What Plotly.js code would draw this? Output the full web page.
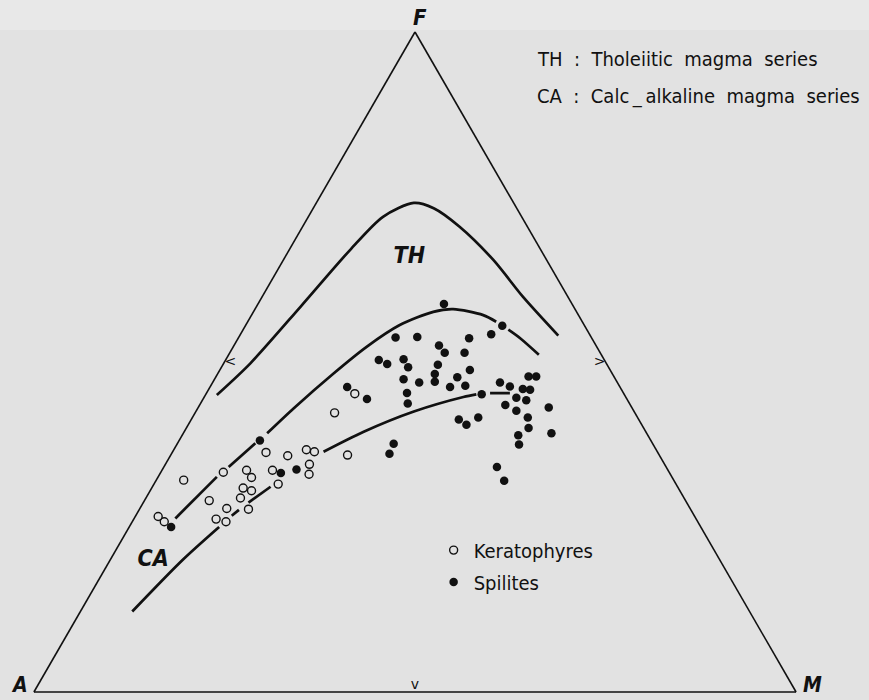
<!DOCTYPE html>
<html>
<head>
<meta charset="utf-8">
<script src="https://cdn.plot.ly/plotly-3.0.1.min.js"></script>
<style>html,body{margin:0;padding:0;background:#e2e2e2;}</style>
</head>
<body>
<div id="chart" style="width:869px;height:700px;"></div>
<script>
// Keratophyres (open circles): F, M, A in percent
const keraF = [26.6,25.8,32.1,29.0,33.3,36.3,33.6,32.5,30.9,30.5,29.4,27.8,27.7,26.2,25.8,33.6,35.8,31.5,36.7,36.4,34.5,33.0,35.9,42.3,45.2];
const keraM = [3.0,4.2,3.6,8.5,8.2,12.3,11.1,12.3,12.0,13.3,12.4,11.4,14.3,10.8,12.3,14.5,15.4,16.3,17.4,18.6,18.9,19.6,23.2,18.3,19.5];
const keraA = [70.4,70.0,64.3,62.5,58.5,51.4,55.3,55.2,57.1,56.2,58.2,60.8,58.0,63.0,61.9,51.9,48.8,52.2,45.9,45.0,46.6,47.4,40.9,39.4,35.3];

// Spilites (filled circles): F, M, A in percent
const spilF = [25.0,38.1,33.2,33.7,46.2,58.8,55.5,54.2,53.7,53.8,53.6,52.5,51.4,51.4,50.3,49.7,50.4,49.2,49.6,48.8,47.4,46.9,48.2,47.0,47.7,46.2,46.4,45.3,43.7,44.4,37.6,36.1,45.1,46.9,46.3,47.8,47.8,45.9,45.8,44.6,44.2,43.5,42.6,43.1,41.6,40.0,41.3,40.5,41.6,39.2,38.9,37.5,34.1,32.0];
const spilM = [5.5,10.6,15.8,17.6,18.0,24.4,33.7,32.9,20.6,23.4,30.3,26.9,28.2,30.8,20.1,21.5,23.3,24.5,28.2,32.8,24.8,27.1,28.5,29.1,31.7,31.5,33.4,26.3,27.2,21.5,28.4,28.6,36.2,37.7,39.3,41.0,42.0,41.2,42.2,41.0,42.5,40.1,42.0,46.0,44.0,44.9,35.1,36.5,37.5,48.3,44.1,44.9,43.7,45.7];
const spilA = [69.5,51.3,51.0,48.7,35.8,16.8,10.8,12.9,25.7,22.8,16.1,20.6,20.4,17.8,29.6,28.8,26.3,26.3,22.2,18.4,27.8,26.0,23.3,23.9,20.6,22.3,20.2,28.4,29.1,34.1,34.0,35.3,18.7,15.4,14.4,11.2,10.2,12.9,12.0,14.4,13.3,16.4,15.4,10.9,14.4,15.1,23.6,23.0,20.9,12.5,17.0,17.6,22.2,22.3];

// Tholeiitic (TH) boundary curve
const thF = [45.0,49.8,58.4,67.0,72.0,74.1,73.3,70.5,65.5,59.9,54.0];
const thM = [1.5,3.5,5.8,8.0,9.8,12.8,15.8,20.6,27.5,34.2,41.8];
const thA = [53.5,46.7,35.8,25.0,18.2,13.1,10.9,8.9,7.0,5.9,4.2];

// Upper calc-alkaline boundary curve (null = break in the line)
const caUpF = [26.3,32.6,null,34.1,37.7,null,39.2,43.0,48.3,52.3,55.6,57.6,58.0,57.1,56.1,null,54.9,53.6,51.1];
const caUpM = [5.4,7.7,null,8.5,10.2,null,11.0,12.6,15.2,17.5,20.2,23.6,26.0,30.4,32.6,null,34.8,37.0,40.7];
const caUpA = [68.3,59.7,null,57.4,52.1,null,49.8,44.4,36.5,30.2,24.2,18.8,16.0,12.5,11.3,null,10.3,9.4,8.2];

// Lower calc-alkaline curve
const caLoF = [12.2,20.0,25.0,null,26.7,27.6,null,28.7,31.1,null,36.4,39.4,42.5,44.7,45.1,null,45.3,45.3];
const caLoM = [6.8,9.5,11.8,null,12.6,13.1,null,13.8,15.5,null,19.8,23.5,28.6,34.0,35.5,null,37.2,39.8];
const caLoA = [81.0,70.5,63.2,null,60.7,59.3,null,57.5,53.4,null,43.8,37.1,28.9,21.3,19.4,null,17.5,14.9];

const vertexLabels = ['F','A','M'];
const regionLabels = ['TH','CA'];
const seriesNames = ['Keratophyres','Spilites'];
const noteLines = ['TH\u00a0\u00a0:\u00a0\u00a0Tholeiitic\u00a0\u00a0magma\u00a0\u00a0series',
                   'CA\u00a0\u00a0:\u00a0\u00a0Calc\u2009_\u2009alkaline\u00a0\u00a0magma\u00a0\u00a0series'];

const BG = '#e2e2e2';
const condensed = 'DejaVu Sans Condensed, Liberation Sans Narrow, Roboto Condensed, Liberation Sans, sans-serif';
const labelFont = {family:condensed, size:23, color:'#111'};
const noteFont = {family:condensed, size:20, color:'#111'};

const curveLine = {color:'#111', width:2.7, shape:'spline', smoothing:0.8};
const base = {type:'scatterternary', hoverinfo:'skip', showlegend:false, cliponaxis:false};

const traces = [
  Object.assign({}, base, {mode:'lines', a:thF, b:thA, c:thM, line:curveLine}),
  Object.assign({}, base, {mode:'lines', a:caUpF, b:caUpA, c:caUpM, line:curveLine, connectgaps:false}),
  Object.assign({}, base, {mode:'lines', a:caLoF, b:caLoA, c:caLoM, line:curveLine, connectgaps:false}),
  {type:'scatterternary', mode:'markers', name:seriesNames[0], a:keraF, b:keraA, c:keraM,
   legendgroup:'k', cliponaxis:false,
   marker:{symbol:'circle-open', size:8, color:'#111', line:{width:1.4, color:'#111'}}},
  {type:'scatterternary', mode:'markers', name:seriesNames[1], a:spilF, b:spilA, c:spilM,
   legendgroup:'s', cliponaxis:false,
   marker:{symbol:'circle', size:8.5, color:'#111', line:{width:0}}},
  Object.assign({}, base, {mode:'text', a:[65.9,19.9], b:[17.8,74.4], c:[16.3,5.7],
   text:regionLabels.map(t=>'<i><b>'+t+'</b></i>'),
   textposition:'middle center', textfont:labelFont}),
  Object.assign({}, base, {mode:'text', a:[50,50,0], b:[50,0,50], c:[0,50,50],
   text:['<','>','v'], textposition:['middle right','middle left','top center'],
   textfont:{family:'DejaVu Sans, sans-serif', size:14, color:'#111'}})
];

const axisCommon = {showgrid:false, showticklabels:false, ticks:'', linecolor:'#111', linewidth:1.6, title:{text:''}, min:0};

function vLabel(t, x, y, xa, sz) {
  return {xref:'paper', yref:'paper', x:x/869, y:1-y/700, xanchor:xa, yanchor:'middle',
          text:'<i><b>'+t+'</b></i>', showarrow:false,
          font:{family:condensed, size:sz, color:'#111'}};
}

const layout = {
  width:869, height:700,
  margin:{l:0, r:0, t:0, b:0},
  paper_bgcolor:BG, plot_bgcolor:BG,
  showlegend:true,
  ternary:{
    sum:100,
    bgcolor:BG,
    domain:{x:[33/869, 797/869], y:[0.0114, 0.9543]},
    aaxis:Object.assign({}, axisCommon),
    baxis:Object.assign({}, axisCommon),
    caxis:Object.assign({}, axisCommon)
  },
  legend:{x:0.499, y:0.242, xanchor:'left', yanchor:'top', bgcolor:'rgba(0,0,0,0)',
          font:{family:condensed, size:20, color:'#111'},
          traceorder:'grouped', tracegroupgap:3, itemclick:false},
  shapes:[{type:'rect', xref:'paper', yref:'paper', x0:0, x1:1, y0:1-30/700, y1:1,
           fillcolor:'#e8e8e8', line:{width:0}, layer:'below'}],
  annotations:[
    {xref:'paper', yref:'paper', x:535/869, y:1-59/700, xanchor:'left', yanchor:'middle',
     text:noteLines[0], showarrow:false, font:noteFont},
    {xref:'paper', yref:'paper', x:535/869, y:1-96/700, xanchor:'left', yanchor:'middle',
     text:noteLines[1], showarrow:false, font:noteFont},
    vLabel(vertexLabels[0], 420, 18, 'center', 22),
    vLabel(vertexLabels[1], 30, 685, 'right', 21),
    vLabel(vertexLabels[2], 801, 685, 'left', 21)
  ]
};

Plotly.newPlot('chart', traces, layout, {displayModeBar:false, staticPlot:true});
</script>
</body>
</html>
